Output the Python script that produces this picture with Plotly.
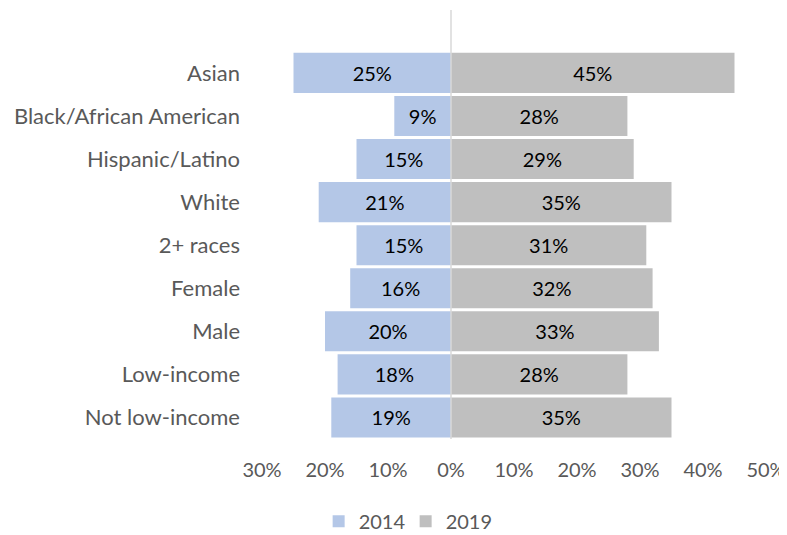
import plotly.graph_objects as go

groups = ["Asian", "Black/African American", "Hispanic/Latino", "White", "2+ races",
          "Female", "Male", "Low-income", "Not low-income"]
y2014 = [25, 9, 15, 21, 15, 16, 20, 18, 19]
y2019 = [45, 28, 29, 35, 31, 32, 33, 28, 35]
ticks = [-30, -20, -10, 0, 10, 20, 30, 40, 50]

font = "Lato, 'Open Sans', sans-serif"

fig = go.Figure()
fig.add_trace(go.Bar(
    y=groups, x=[-v for v in y2014], orientation="h", name="2014",
    marker=dict(color="#B4C7E7", line=dict(width=0)),
    text=[f"{v}%" for v in y2014], textposition="inside", insidetextanchor="middle",
    textfont=dict(color="black", size=20, family=font), hoverinfo="skip",
))
fig.add_trace(go.Bar(
    y=groups, x=y2019, orientation="h", name="2019",
    marker=dict(color="#BFBFBF", line=dict(width=0)),
    text=[f"{v}%" for v in y2019], textposition="inside", insidetextanchor="middle",
    textfont=dict(color="black", size=20, family=font), hoverinfo="skip",
))

# axis line at zero
fig.add_shape(type="line", xref="x", yref="paper", x0=0, x1=0, y0=0, y1=1,
              line=dict(color="#D9D9D9", width=1.5), layer="above")

# page body has an 8px margin, so the figure is 8px smaller than the window
fig.update_layout(
    width=779, height=527,
    barmode="relative", bargap=0.07,
    paper_bgcolor="white", plot_bgcolor="white",
    margin=dict(l=254, r=21, t=2, b=96, autoexpand=False),
    font=dict(family=font, size=20, color="#595959"),
    uniformtext=dict(minsize=10, mode="show"),
    xaxis=dict(
        range=[-30, 50], tickvals=ticks, ticktext=[f"{abs(t)}%" for t in ticks],
        showgrid=False, zeroline=False, showline=False, ticks="", automargin=False,
        ticklabelstandoff=17, tickfont=dict(size=20, color="#595959"),
    ),
    yaxis=dict(
        categoryorder="array", categoryarray=groups[::-1], automargin=False,
        range=[-0.5, 9.46], showgrid=False, zeroline=False, showline=False, ticks="",
        ticklabelstandoff=21, tickfont=dict(size=22, color="#595959"),
    ),
    legend=dict(orientation="h", x=0.285, xanchor="center", y=-0.192, yanchor="middle",
                font=dict(size=20, color="#595959"), traceorder="normal",
                itemwidth=30, entrywidth=42),
    showlegend=True,
)

fig.write_html("out.html")
